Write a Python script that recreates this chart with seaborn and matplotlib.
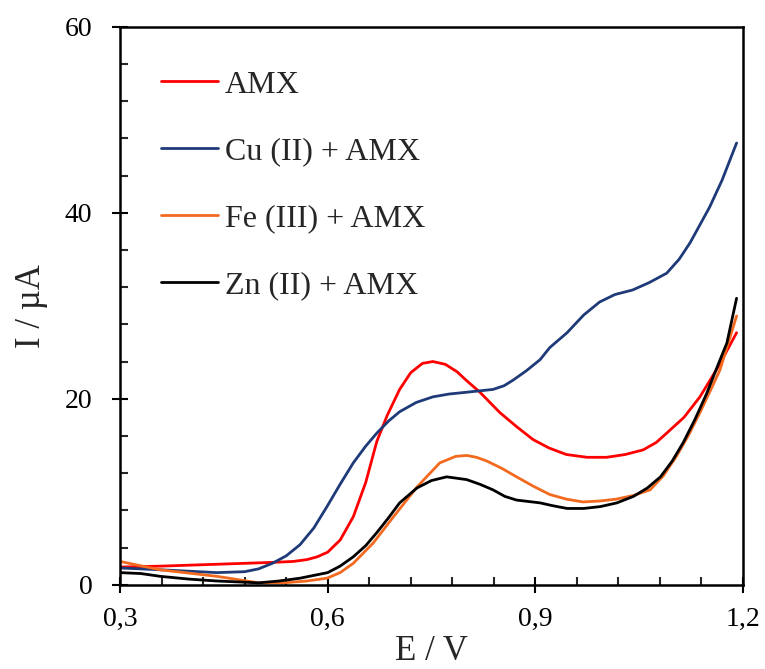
import matplotlib
matplotlib.use("Agg")
import matplotlib.pyplot as plt
import seaborn as sns
import pandas as pd
from matplotlib.ticker import MultipleLocator, FuncFormatter

# ---- data ----
e_amx = [0.30, 0.36, 0.44, 0.52, 0.55, 0.57, 0.585, 0.60, 0.618, 0.637, 0.655, 0.671, 0.686, 0.704, 0.72, 0.737,
         0.752, 0.77, 0.787, 0.80, 0.82, 0.849, 0.873, 0.897, 0.92, 0.945, 0.975, 1.003, 1.03, 1.056, 1.075,
         1.09, 1.115, 1.138, 1.165, 1.191]
i_amx = [1.9, 2.0, 2.2, 2.4, 2.5, 2.7, 3.0, 3.5, 4.8, 7.3, 11.0, 15.4, 18.2, 21.0, 22.8, 23.8,
         24.0, 23.7, 22.9, 22.0, 20.7, 18.5, 17.0, 15.6, 14.7, 14.0, 13.7, 13.7, 14.0, 14.5, 15.3,
         16.3, 18.0, 20.2, 23.5, 27.1]

e_cu = [0.30, 0.36, 0.44, 0.48, 0.50, 0.52, 0.54, 0.56, 0.58, 0.599, 0.618, 0.637, 0.655, 0.671, 0.688, 0.704,
        0.728, 0.752, 0.775, 0.801, 0.839, 0.855, 0.868, 0.887, 0.907, 0.921, 0.946, 0.97, 0.993, 1.015,
        1.041, 1.065, 1.09, 1.108, 1.124, 1.152, 1.17, 1.191]
i_cu = [1.8, 1.6, 1.3, 1.4, 1.7, 2.3, 3.1, 4.3, 6.1, 8.4, 10.8, 13.1, 14.9, 16.3, 17.6, 18.6,
        19.6, 20.2, 20.5, 20.7, 21.0, 21.4, 22.0, 23.0, 24.2, 25.5, 27.1, 29.0, 30.4, 31.2,
        31.7, 32.5, 33.5, 35.0, 36.8, 40.6, 43.5, 47.5]

e_fe = [0.30, 0.358, 0.44, 0.50, 0.536, 0.57, 0.599, 0.618, 0.637, 0.666, 0.695, 0.729, 0.762, 0.785, 0.801,
        0.815, 0.83, 0.852, 0.873, 0.897, 0.921, 0.945, 0.969, 0.993, 1.017, 1.042, 1.066, 1.085, 1.104,
        1.121, 1.138, 1.152, 1.167, 1.191]
i_fe = [2.5, 1.6, 0.9, 0.2, 0.2, 0.4, 0.7, 1.3, 2.3, 4.5, 7.3, 10.5, 13.1, 13.8, 13.9,
        13.7, 13.3, 12.5, 11.6, 10.6, 9.7, 9.2, 8.9, 9.0, 9.2, 9.6, 10.2, 11.7, 13.8,
        16.0, 18.5, 20.7, 23.1, 28.9]

e_zn = [0.30, 0.33, 0.358, 0.40, 0.44, 0.50, 0.53, 0.56, 0.60, 0.618, 0.637, 0.655, 0.671, 0.688, 0.704,
        0.729, 0.75, 0.772, 0.801, 0.82, 0.839, 0.856, 0.873, 0.907, 0.925, 0.946, 0.97, 0.994, 1.018,
        1.042, 1.062, 1.081, 1.098, 1.114, 1.131, 1.148, 1.165, 1.177, 1.191]
i_zn = [1.3, 1.2, 0.9, 0.6, 0.4, 0.2, 0.4, 0.7, 1.3, 2.0, 3.0, 4.2, 5.6, 7.2, 8.8,
        10.4, 11.2, 11.6, 11.3, 10.8, 10.2, 9.5, 9.1, 8.8, 8.5, 8.2, 8.2, 8.4, 8.8,
        9.5, 10.4, 11.6, 13.3, 15.3, 17.8, 20.6, 23.8, 26.0, 30.8]

labels = ["AMX", "Cu (II) + AMX", "Fe (III) + AMX", "Zn (II) + AMX"]
colors = ["#FF0000", "#1F3A78", "#F26A1F", "#000000"]

frames = []
for lab, e, i in zip(labels, [e_amx, e_cu, e_fe, e_zn], [i_amx, i_cu, i_fe, i_zn]):
    frames.append(pd.DataFrame({"E": e, "I": i, "series": lab}))
df = pd.concat(frames, ignore_index=True)

sns.set_style("white")
plt.rcParams["font.family"] = ["Liberation Serif", "DejaVu Serif"]

fig = plt.figure(figsize=(7.65, 6.69), dpi=100)
ax = fig.add_axes([0.157, 0.126, 0.814, 0.834])

sns.lineplot(data=df, x="E", y="I", hue="series", hue_order=labels,
             palette=dict(zip(labels, colors)), sort=False, estimator=None,
             linewidth=2.0, ax=ax)
for ln in ax.get_lines():
    ln.set_solid_joinstyle("round")

ax.set_xlim(0.3, 1.2)
ax.set_ylim(0, 60)
ax.xaxis.set_major_locator(MultipleLocator(0.3))
ax.xaxis.set_minor_locator(MultipleLocator(0.06))
ax.yaxis.set_major_locator(MultipleLocator(20))
ax.yaxis.set_minor_locator(MultipleLocator(4))
ax.xaxis.set_major_formatter(FuncFormatter(lambda v, p: f"{v:.1f}".replace(".", ",")))
ax.yaxis.set_major_formatter(FuncFormatter(lambda v, p: f"{v:.0f}"))

ax.tick_params(axis="both", which="major", direction="inout", length=12, width=1.5,
               labelsize=20, colors="black")
ax.tick_params(axis="y", which="major", pad=14)
ax.tick_params(axis="x", which="major", pad=10)
ax.tick_params(axis="both", which="minor", direction="in", length=6, width=1.5)
ax.tick_params(top=False, right=False, which="both")
ax.tick_params(axis="x", which="both", bottom=True)
ax.tick_params(axis="y", which="both", left=True)

for sp in ax.spines.values():
    sp.set_visible(True)
    sp.set_color("black")
    sp.set_linewidth(1.8)

ax.set_xlabel("E / V", fontsize=25, labelpad=2)
ax.set_ylabel("I / µA", fontsize=25, labelpad=12)

leg = ax.legend(loc="upper left", bbox_to_anchor=(0.066, 0.922), frameon=False,
                fontsize=23, handlelength=1.78, handletextpad=0.22, labelspacing=1.17,
                borderaxespad=0, borderpad=0)
for h in leg.get_lines():
    h.set_linewidth(2.0)

fig.savefig("out.png", dpi=100)
